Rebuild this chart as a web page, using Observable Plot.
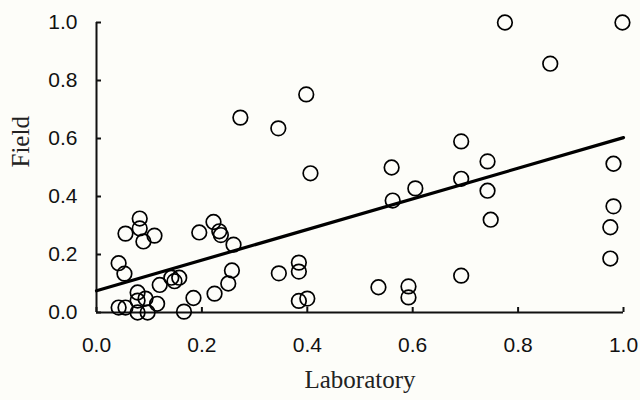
<!DOCTYPE html>
<html><head><meta charset="utf-8">
<script src="https://cdn.jsdelivr.net/npm/d3@7"></script>
<script src="https://cdn.jsdelivr.net/npm/@observablehq/plot@0.6"></script>
<style>html,body{margin:0;padding:0;background:#fdfdf9}</style>
</head><body><div id="chart"></div>
<script>
const laboratory = [0.042,0.055,0.078,0.078,0.093,0.078,0.097,0.115,0.12,0.142,0.157,0.148,0.166,0.184,0.224,0.25,0.257,0.26,
  0.042,0.053,0.082,0.082,0.055,0.11,0.089,0.195,0.222,0.233,0.236,
  0.273,0.345,0.398,0.406,0.346,0.384,0.384,0.384,0.40,
  0.535,0.592,0.592,0.56,0.562,0.605,
  0.692,0.692,0.692,0.742,0.742,0.748,0.775,0.861,0.998,0.981,0.981,0.975,0.975];
const field = [0.017,0.017,0.069,0.041,0.048,0.0,0.0,0.03,0.095,0.12,0.12,0.108,0.003,0.05,0.065,0.10,0.145,0.234,
  0.17,0.134,0.324,0.29,0.272,0.265,0.245,0.276,0.312,0.28,0.267,
  0.672,0.635,0.752,0.48,0.135,0.172,0.141,0.04,0.048,
  0.087,0.09,0.052,0.50,0.386,0.428,
  0.59,0.461,0.127,0.521,0.42,0.32,1.0,0.858,1.0,0.513,0.366,0.294,0.186];
const fitX = [0, 1];
const fitY = [0.075, 0.603];
const xTicks = [0, 0.2, 0.4, 0.6, 0.8, 1.0];
const yTicks = [0, 0.2, 0.4, 0.6, 0.8, 1.0];
const xTitle = "Laboratory";
const yTitle = "Field";

const points = laboratory.map((x, i) => ({x, y: field[i]}));
const fit = fitX.map((x, i) => ({x, y: fitY[i]}));
const W = 640, H = 400, mL = 96, mR = 17, mT = 22, mB = 88;
const fw = W - mL - mR, fh = H - mT - mB;
const serif = "'Liberation Serif', 'Times New Roman', serif";

const chart = Plot.plot({
  width: W, height: H,
  marginLeft: mL, marginRight: mR, marginTop: mT, marginBottom: mB,
  style: {background: "#fdfdf9", fontFamily: "'Liberation Sans', Arial, sans-serif", color: "#111"},
  x: {domain: [0, 1]},
  y: {domain: [0, 1]},
  marks: [
    Plot.axisX({ticks: xTicks, tickFormat: d3.format(".1f"), tickSize: 0, tickPadding: 25, fontSize: 21, label: null}),
    Plot.axisY({ticks: yTicks, tickFormat: d3.format(".1f"), tickSize: 0, tickPadding: 19, fontSize: 21, label: null}),
    Plot.tickX(xTicks, {x: d => d, insetTop: fh - 5, stroke: "#111", strokeWidth: 2}),
    Plot.tickY(yTicks, {y: d => d, insetRight: fw - 5, stroke: "#111", strokeWidth: 2}),
    Plot.ruleX([0], {stroke: "#111", strokeWidth: 2}),
    Plot.ruleY([0], {stroke: "#111", strokeWidth: 2}),
    Plot.line(fit, {x: "x", y: "y", stroke: "#000", strokeWidth: 3.2}),
    Plot.dot(points, {x: "x", y: "y", r: 7.3, stroke: "#000", strokeWidth: 1.7, fill: "none"}),
    Plot.text([xTitle], {frameAnchor: "bottom", dy: 75, fontSize: 25, fontFamily: serif, fill: "#222"}),
    Plot.text([yTitle], {frameAnchor: "left", dx: -76, rotate: -90, fontSize: 25, fontFamily: serif, fill: "#222"})
  ]
});
document.getElementById("chart").appendChild(chart);
</script>
</body></html>
